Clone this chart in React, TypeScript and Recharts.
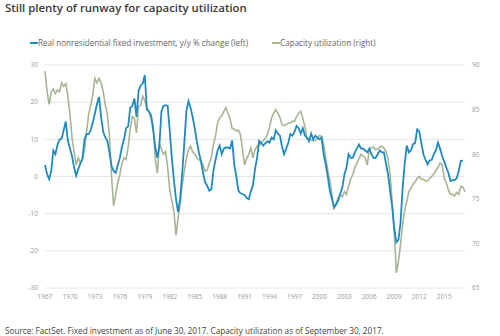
import { LineChart, Line, XAxis, YAxis, CartesianGrid } from 'recharts'

// quarterly, starting 1967 Q1
const START_YEAR = 1967
const X_TICKS = [1967, 1970, 1973, 1976, 1979, 1982, 1985, 1988, 1991, 1994, 1997, 2000, 2003, 2006, 2009, 2012, 2015]
const LEFT_TICKS = [-30, -20, -10, 0, 10, 20, 30]
const RIGHT_TICKS = [65, 70, 75, 80, 85, 90]

// Real nonresidential fixed investment, y/y % change (1967 Q1 - 2017 Q2)
const investment = [
  3.1, 0.6, -0.7, 1.5, 7.0, 6.0, 8.5, 10.0, 10.2, 12.5, 14.8, 9.6,
  7.5, 5.5, 2.4, 0.2, 2.0, 3.5, 4.7, 10.0, 11.4, 11.4, 12.5, 14.5,
  17.0, 19.5, 21.4, 15.9, 12.0, 10.5, 9.6, 6.5, 2.8, 1.5, 1.0, 3.0,
  5.0, 8.0, 10.0, 13.0, 13.5, 18.5, 19.0, 21.0, 16.0, 23.0, 24.5, 25.0,
  27.3, 18.0, 17.5, 16.0, 12.7, 8.0, 5.0, 8.2, 17.6, 19.0, 19.2, 19.0,
  12.3, 5.0, -1.0, -6.0, -9.6, -6.0, 1.0, 9.0, 17.6, 20.3, 18.5, 16.0,
  13.0, 9.5, 6.5, 4.2, 1.0, -1.6, -2.5, -3.8, -3.4, 1.5, 4.5, 7.0,
  8.3, 6.0, 7.5, 7.8, 7.8, 7.5, 9.7, 3.3, 0.0, -3.8, -4.5, -4.7,
  -5.0, -5.8, -6.1, -4.0, -2.4, 2.0, 5.0, 9.6, 9.0, 8.3, 9.0, 9.5,
  9.1, 10.5, 10.0, 12.4, 11.5, 11.0, 8.0, 6.0, 7.5, 9.0, 11.4, 11.0,
  12.0, 13.6, 13.0, 11.5, 13.0, 11.0, 10.5, 9.5, 11.5, 10.0, 11.0, 10.5,
  10.0, 10.5, 6.0, 3.3, 0.0, -3.8, -6.0, -8.2, -7.5, -6.5, -4.7, -3.0,
  0.5, 2.4, 6.0, 5.0, 5.0, 6.5, 7.5, 8.6, 7.5, 7.5, 7.0, 6.5,
  7.5, 6.0, 5.0, 5.0, 6.0, 7.0, 6.5, 6.5, 3.5, 0.6, -4.0, -8.3,
  -14.0, -17.7, -17.0, -12.4, -3.0, 3.5, 8.3, 6.5, 7.0, 8.7, 9.0, 12.7,
  12.2, 9.0, 6.0, 4.5, 3.3, 4.3, 4.5, 6.0, 7.0, 9.1, 7.5, 5.6,
  4.0, 2.4, 1.0, -1.2, -1.0, -1.0, -0.5, 1.5, 4.2, 4.3,
]

// Capacity utilization, % (1967 Q1 - 2017 Q3)
const capacity = [
  89.3, 87.0, 85.6, 87.0, 87.3, 86.8, 87.2, 87.0, 88.0, 87.6, 87.9, 86.5,
  84.5, 81.8, 80.3, 78.8, 79.6, 79.0, 79.5, 80.5, 82.5, 84.5, 85.5, 86.7,
  88.5, 88.0, 88.5, 88.0, 87.0, 85.5, 84.5, 82.0, 77.5, 74.2, 75.5, 76.8,
  77.7, 79.0, 79.6, 79.4, 80.8, 82.9, 84.2, 84.0, 82.4, 85.4, 85.5, 86.5,
  86.0, 85.2, 84.8, 84.5, 83.3, 79.5, 77.9, 81.1, 80.6, 80.0, 80.3, 78.5,
  76.0, 74.8, 73.6, 70.9, 72.8, 74.5, 76.5, 78.1, 79.5, 80.5, 80.9, 80.3,
  80.0, 79.6, 79.4, 79.2, 78.8, 78.1, 78.2, 79.0, 79.6, 81.1, 82.0, 83.5,
  84.1, 84.3, 84.8, 85.2, 84.6, 84.0, 82.9, 82.8, 82.6, 82.7, 82.2, 80.5,
  78.8, 79.5, 80.0, 80.7, 79.6, 80.5, 80.9, 81.0, 81.3, 81.5, 81.8, 82.2,
  83.0, 84.1, 84.6, 85.0, 84.6, 84.1, 83.3, 83.2, 83.3, 83.5, 83.5, 83.7,
  83.7, 84.2, 84.6, 84.8, 84.0, 83.1, 81.8, 81.7, 81.6, 81.5, 81.5, 81.8,
  82.1, 82.0, 81.1, 79.6, 78.2, 77.0, 75.5, 73.8, 74.5, 75.1, 75.5, 75.2,
  75.8, 75.5, 76.4, 77.2, 77.7, 78.5, 79.0, 79.5, 80.0, 79.8, 79.6, 78.8,
  80.5, 80.7, 80.8, 80.5, 80.6, 80.8, 80.9, 80.7, 80.3, 79.5, 77.7, 74.5,
  71.0, 66.7, 68.0, 69.9, 72.1, 73.8, 74.7, 75.8, 76.2, 76.6, 76.9, 77.3,
  77.5, 77.2, 77.2, 77.0, 77.0, 77.3, 77.5, 77.8, 78.2, 78.5, 79.0, 78.8,
  77.3, 76.8, 76.0, 75.5, 75.5, 75.3, 75.7, 75.5, 76.4, 76.3, 75.8,
]

const BLUE = '#2089c0'
const GREEN = '#a7b594'
const FONT = '"Open Sans", sans-serif'

const data = capacity.map((c, i) => ({
  t: START_YEAR + i / 4,
  inv: i < investment.length ? investment[i] : null,
  cap: c,
}))

const tick = { fontSize: 6.5, fill: '#9a9a9a', fontFamily: FONT }

export default function App() {
  return (
    <div style={{ position: 'absolute', left: 0, top: 0, width: 500, height: 336, background: '#fff', fontFamily: FONT }}>
      <div style={{ position: 'absolute', left: 5, top: 0, fontSize: 11.4, fontWeight: 600, color: '#3a3a3a', whiteSpace: 'nowrap' }}>
        Still plenty of runway for capacity utilization
      </div>

      <div style={{ position: 'absolute', left: 30, top: 37, fontSize: 8.1, color: '#666', display: 'flex', alignItems: 'center', whiteSpace: 'nowrap' }}>
        <span style={{ display: 'inline-block', width: 8, height: 2, background: BLUE }} />
        <span>Real nonresidential fixed investment, y/y % change (left)</span>
        <span style={{ display: 'inline-block', width: 8, height: 2, background: GREEN, marginLeft: 24 }} />
        <span>Capacity utilization (right)</span>
      </div>

      <LineChart width={500} height={320} data={data} margin={{ top: 65, right: 0, left: 0, bottom: 12 }}>
        <CartesianGrid yAxisId="left" vertical={false} stroke="#e6e6e6" />
        <XAxis
          dataKey="t"
          type="number"
          domain={[1967, 2017.5]}
          ticks={X_TICKS}
          axisLine={false}
          tickLine={false}
          tickSize={0}
          tickMargin={6}
          height={20}
          tick={tick}
        />
        <YAxis
          yAxisId="left"
          domain={[-30, 30]}
          ticks={LEFT_TICKS}
          axisLine={false}
          tickLine={false}
          tickSize={0}
          tickMargin={7}
          width={45}
          tick={tick}
        />
        <YAxis
          yAxisId="right"
          orientation="right"
          domain={[65, 90]}
          ticks={RIGHT_TICKS}
          axisLine={false}
          tickLine={false}
          tickSize={0}
          tickMargin={7}
          width={35}
          tick={{ ...tick, textAnchor: 'start' }}
        />
        <Line yAxisId="right" dataKey="cap" stroke={GREEN} strokeWidth={1.6} dot={false} isAnimationActive={false} />
        <Line yAxisId="left" dataKey="inv" stroke={BLUE} strokeWidth={1.8} dot={false} isAnimationActive={false} connectNulls={false} />
      </LineChart>

      <div style={{ position: 'absolute', left: 5, top: 325, fontSize: 8.2, color: '#444', whiteSpace: 'nowrap' }}>
        Source: FactSet. Fixed investment as of June 30, 2017. Capacity utilization as of September 30, 2017.
      </div>
    </div>
  )
}
